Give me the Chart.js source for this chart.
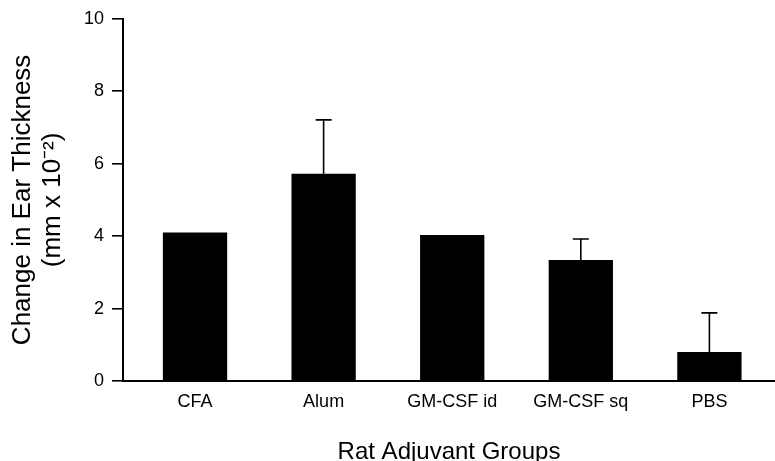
<!DOCTYPE html>
<html lang="en">
<head>
    <meta charset="UTF-8">
    <title>Rat Adjuvant Groups - Ear Thickness</title>
    <script src="https://cdn.jsdelivr.net/npm/chart.js"></script>
    <style>
        body { margin: 0; background: #fff; }
    </style>
</head>
<body>
    <canvas id="earChart" width="775" height="461"></canvas>

    <script>
        // values
        const groups = ['CFA', 'Alum', 'GM-CSF id', 'GM-CSF sq', 'PBS'];
        const meanChange = [4.1, 5.72, 4.03, 3.34, 0.8];
        const errorTop = [null, 7.21, null, 3.92, 1.88];
        const yTicks = [0, 2, 4, 6, 8, 10];

        const fontFamily = '"Liberation Sans", Arial, Helvetica, sans-serif';

        // draws the upper error whiskers through the scales
        const errorBars = {
            id: 'errorBars',
            afterDatasetsDraw(chart) {
                const ctx = chart.ctx;
                const meta = chart.getDatasetMeta(0);
                const yScale = chart.scales.y;
                ctx.save();
                ctx.strokeStyle = '#000';
                ctx.lineWidth = 1.6;
                meta.data.forEach(function(bar, i) {
                    if (errorTop[i] == null) return;
                    const yTop = yScale.getPixelForValue(errorTop[i]);
                    const yBase = yScale.getPixelForValue(meanChange[i]);
                    ctx.beginPath();
                    ctx.moveTo(bar.x, yBase);
                    ctx.lineTo(bar.x, yTop);
                    ctx.moveTo(bar.x - 8, yTop);
                    ctx.lineTo(bar.x + 8, yTop);
                    ctx.stroke();
                });
                ctx.restore();
            }
        };

        new Chart(document.getElementById('earChart').getContext('2d'), {
            type: 'bar',
            data: {
                labels: groups,
                datasets: [{
                    data: meanChange.map((v, i) => ({ x: i, y: v })),
                    backgroundColor: '#000',
                    borderWidth: 0,
                    categoryPercentage: 1,
                    barPercentage: 0.5
                }]
            },
            options: {
                responsive: false,
                animation: false,
                layout: { padding: { top: 11, right: 0, bottom: 0, left: 0 } },
                plugins: {
                    legend: { display: false },
                    tooltip: { enabled: false }
                },
                scales: {
                    x: {
                        type: 'linear',
                        offset: false,
                        min: -0.56,
                        max: 4.51,
                        grid: { display: false, drawTicks: false },
                        border: { display: true, color: '#000', width: 2 },
                        afterBuildTicks: function(scale) {
                            scale.ticks = groups.map((g, i) => ({ value: i }));
                        },
                        afterFit: function(scale) { scale.height = 80; },
                        ticks: {
                            color: '#000',
                            padding: 10,
                            maxRotation: 0,
                            font: { family: fontFamily, size: 18 },
                            callback: function(value) { return groups[value]; }
                        },
                        title: {
                            display: true,
                            text: 'Rat Adjuvant Groups',
                            color: '#000',
                            padding: 0,
                            font: { family: fontFamily, size: 24, lineHeight: 0.75 }
                        }
                    },
                    y: {
                        min: 0,
                        max: 10,
                        afterBuildTicks: function(scale) {
                            scale.ticks = yTicks.map(v => ({ value: v }));
                        },
                        afterFit: function(scale) { scale.width = 123; },
                        grid: { drawOnChartArea: false, drawTicks: true, tickLength: 11, color: '#000', lineWidth: 1.6 },
                        border: { display: true, color: '#000', width: 2 },
                        ticks: {
                            color: '#000',
                            padding: 8,
                            font: { family: fontFamily, size: 18 }
                        },
                        title: {
                            display: true,
                            text: ['Change in Ear Thickness', '(mm x 10\u207B\u00B2)'],
                            color: '#000',
                            padding: { top: 8, bottom: 0 },
                            font: { family: fontFamily, size: 26, lineHeight: 1.15 }
                        }
                    }
                }
            },
            plugins: [errorBars]
        });
    </script>
</body>
</html>
